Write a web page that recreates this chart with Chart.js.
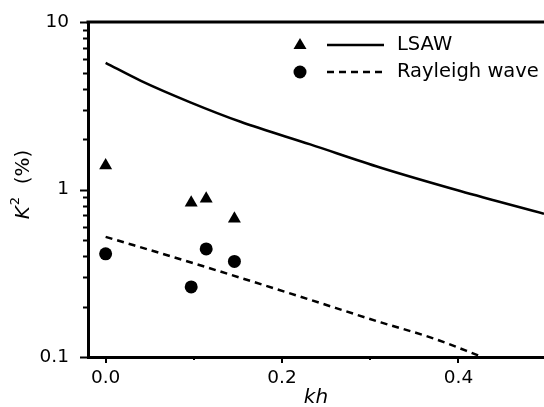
<!DOCTYPE html>
<html>
<head>
<meta charset="utf-8">
<script src="https://cdn.jsdelivr.net/npm/chart.js@4.4.0/dist/chart.umd.min.js"></script>
<style>
  html, body { margin: 0; padding: 0; background: #fff; }
  #wrap { width: 544px; height: 407px; }
</style>
</head>
<body>
<div id="wrap"><canvas id="k2-chart" width="544" height="407"></canvas></div>
<script>
// calculated curves (kh, K2 %)
var lsawKh = [0, 0.04, 0.096, 0.153, 0.232, 0.312, 0.402, 0.497];
var lsawK2 = [5.71, 4.46, 3.32, 2.54, 1.86, 1.35, 0.98, 0.716];
var rayKh = [0, 0.096, 0.221, 0.312, 0.372, 0.427];
var rayK2 = [0.522, 0.368, 0.229, 0.161, 0.129, 0.1];

// measured points
var triKh = [0, 0.097, 0.114, 0.146];
var triK2 = [1.39, 0.833, 0.88, 0.67];
var dotKh = [0, 0.097, 0.114, 0.146];
var dotK2 = [0.413, 0.262, 0.442, 0.372];

var xTicks = [0, 0.1, 0.2, 0.3, 0.4];
var xLabelled = [0, 0.2, 0.4];
var yTicks = [0.1, 1, 10];
var legendLabels = ['LSAW', 'Rayleigh wave'];

var FONT = "'DejaVu Sans', 'Liberation Sans', sans-serif";

function pts(xs, ys) {
    var out = [];
    for (var i = 0; i < xs.length; i++) {
        out.push({x: xs[i], y: ys[i]});
    }
    return out;
}

// top frame, tick marks, y title and legend
var decor = {
    id: 'decor',
    afterDraw: function(chart) {
        var ctx = chart.ctx;
        var area = chart.chartArea;
        var xs = chart.scales.x;
        var ys = chart.scales.y;
        ctx.save();
        ctx.strokeStyle = '#000';
        ctx.fillStyle = '#000';

        ctx.lineWidth = 3;
        ctx.beginPath();
        ctx.moveTo(area.left - 1.5, area.top);
        ctx.lineTo(chart.width, area.top);
        ctx.stroke();

        ctx.lineWidth = 2;
        ctx.beginPath();
        [0.1, 1].forEach(function(d) {
            for (var k = 1; k <= 10; k++) {
                var v = d * k;
                var p = Math.round(ys.getPixelForValue(v)) + 0.5;
                var len = (k == 1 || k == 10) ? 8 : 5;
                ctx.moveTo(area.left - len, p);
                ctx.lineTo(area.left, p);
            }
        });
        xTicks.forEach(function(v) {
            var p = Math.round(xs.getPixelForValue(v));
            var len = xLabelled.indexOf(v) >= 0 ? 6 : 3;
            ctx.moveTo(p, area.bottom);
            ctx.lineTo(p, area.bottom + len);
        });
        ctx.stroke();

        // y title: K^2 (%)
        ctx.save();
        ctx.translate(24, 185);
        ctx.rotate(-Math.PI / 2);
        ctx.textBaseline = 'middle';
        var fK = 'italic 20px ' + FONT, fS = '13px ' + FONT, fP = '20px ' + FONT;
        ctx.font = fK; var wK = ctx.measureText('K').width;
        ctx.font = fS; var wS = ctx.measureText('2').width;
        ctx.font = fP; var wP = ctx.measureText('  (%)').width;
        var x0 = -(wK + wS + wP) / 2;
        ctx.font = fK; ctx.fillText('K', x0, 0);
        ctx.font = fS; ctx.fillText('2', x0 + wK + 1, -8);
        ctx.font = fP; ctx.fillText('  (%)', x0 + wK + wS + 1, 0);
        ctx.restore();

        // legend
        var rows = [45, 72];
        ctx.lineWidth = 2.5;
        rows.forEach(function(y, i) {
            ctx.beginPath();
            if (i == 0) {
                ctx.moveTo(300, y - 7);
                ctx.lineTo(306.5, y + 4);
                ctx.lineTo(293.5, y + 4);
                ctx.closePath();
            } else {
                ctx.arc(300, y, 6.5, 0, Math.PI * 2);
            }
            ctx.fill();
            ctx.beginPath();
            ctx.setLineDash(i == 0 ? [] : [7, 5]);
            ctx.moveTo(327, y);
            ctx.lineTo(384, y);
            ctx.stroke();
            ctx.setLineDash([]);
            ctx.font = '19.5px ' + FONT;
            ctx.textBaseline = 'middle';
            ctx.fillText(legendLabels[i], 397, y);
        });
        ctx.restore();
    }
};

var ctx = document.getElementById('k2-chart').getContext('2d');

var myChart = new Chart(ctx, {
    type: 'scatter',
    data: {
        datasets: [{
            label: 'LSAW',
            data: pts(lsawKh, lsawK2),
            showLine: true,
            borderColor: '#000',
            borderWidth: 2.5,
            pointRadius: 0,
            cubicInterpolationMode: 'monotone'
        }, {
            label: 'Rayleigh wave',
            data: pts(rayKh, rayK2),
            showLine: true,
            borderColor: '#000',
            borderWidth: 2.5,
            borderDash: [7, 5],
            pointRadius: 0,
            cubicInterpolationMode: 'monotone'
        }, {
            label: 'LSAW measured',
            data: pts(triKh, triK2),
            pointStyle: 'triangle',
            pointRadius: 7.5,
            backgroundColor: '#000',
            borderColor: '#000',
            borderWidth: 0
        }, {
            label: 'Rayleigh measured',
            data: pts(dotKh, dotK2),
            pointStyle: 'circle',
            pointRadius: 6.5,
            backgroundColor: '#000',
            borderColor: '#000',
            borderWidth: 0
        }]
    },
    options: {
        responsive: false,
        animation: false,
        layout: { autoPadding: false, padding: { top: 17, right: 0, left: 0, bottom: 0 } },
        plugins: {
            legend: { display: false },
            tooltip: { enabled: false }
        },
        scales: {
            x: {
                type: 'linear',
                min: -0.02,
                max: 0.497,
                afterBuildTicks: function(s) {
                    s.ticks = xLabelled.map(function(v) { return {value: v}; });
                },
                afterFit: function(s) { s.height = 50; },
                grid: { display: false },
                border: { display: true, color: '#000', width: 3 },
                ticks: {
                    padding: 2,
                    color: '#000',
                    font: { family: FONT, size: 18.5 },
                    callback: function(v) { return v.toFixed(1); }
                },
                title: {
                    display: true,
                    text: 'kh',
                    color: '#000',
                    font: { family: FONT, size: 20, style: 'italic' },
                    padding: { top: 0, bottom: -3 }
                }
            },
            y: {
                type: 'logarithmic',
                min: 0.1,
                max: 10,
                afterBuildTicks: function(s) {
                    s.ticks = yTicks.map(function(v) { return {value: v}; });
                },
                afterFit: function(s) { s.width = 88; },
                grid: { display: false },
                border: { display: true, color: '#000', width: 3 },
                ticks: {
                    padding: 11,
                    color: '#000',
                    font: { family: FONT, size: 18.5 },
                    callback: function(v) { return String(v); }
                }
            }
        }
    },
    plugins: [decor]
});
</script>
</body>
</html>
